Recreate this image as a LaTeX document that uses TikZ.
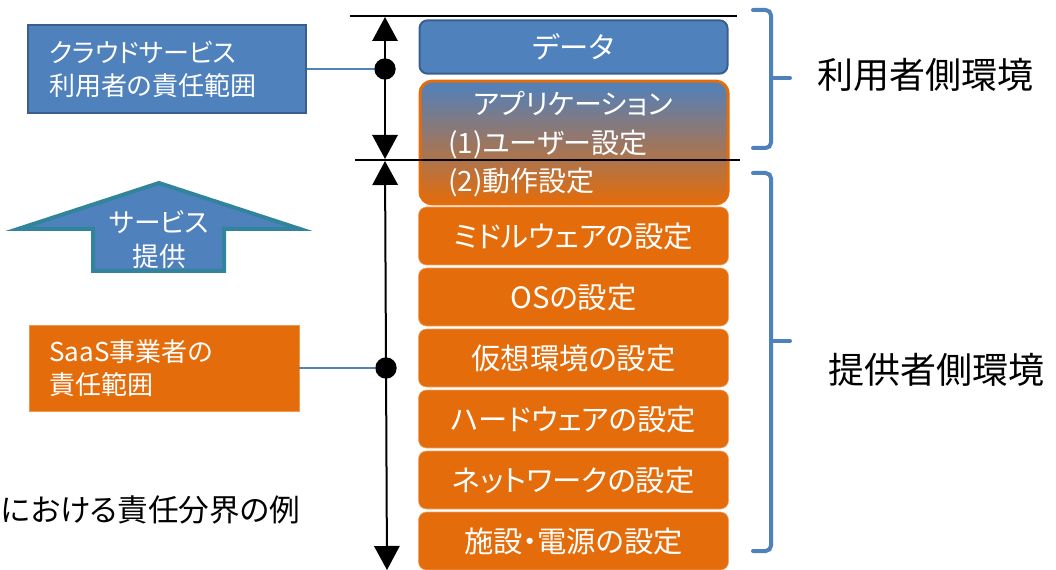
\documentclass[tikz,border=0pt]{standalone}
\usepackage{fontspec}
\setmainfont{Noto Sans CJK JP}[RawFeature=+palt]
\usetikzlibrary{arrows.meta}
\definecolor{cblue}{HTML}{4F81BD}
\definecolor{cbluedark}{HTML}{3A5F8C}
\definecolor{corange}{HTML}{E46C0A}
\definecolor{cteal}{HTML}{31849B}
\begin{document}
\begin{tikzpicture}[x=0.75pt,y=-0.75pt,
  txt/.style={text=white,font=\fontsize{21pt}{28pt}\selectfont,inner sep=0pt},
  sidetxt/.style={text=white,font=\fontsize{19.5pt}{24.75pt}\selectfont,inner sep=0pt},
  layerbox/.style={rounded corners=6pt,fill=corange,draw=corange!60!white,line width=0.4pt,
    minimum width=232.5pt,minimum height=43.5pt,inner sep=0pt,
    text=white,font=\fontsize{22pt}{28pt}\selectfont},
  sidebox/.style={minimum width=208.5pt,inner sep=0pt},
  dot/.style={circle,fill=black,inner sep=0pt,minimum size=16pt},
  conn/.style={draw=cblue,line width=1.5pt},
  dim/.style={draw=black,line width=1.5pt,{Triangle[length=18pt,width=19pt]}-{Triangle[length=18pt,width=19pt]}},
  hline/.style={draw=black,line width=1.6pt},
  brace/.style={draw=cblue,line width=3pt,rounded corners=4pt,line cap=round},
  sidelabel/.style={font=\fontsize{27pt}{30pt}\selectfont,inner sep=0pt}
]
\useasboundingbox (0,0) rectangle (1056,570);

% layer stack
\node[rounded corners=6pt,fill=cblue,draw=cbluedark,line width=1.5pt,
  minimum width=231pt,minimum height=40pt,inner sep=0pt,
  text=white,font=\fontsize{22pt}{26pt}\selectfont] (data) at (573.5,47) {データ};
\node[rounded corners=9pt,top color=cblue,bottom color=corange,draw=corange,line width=2.25pt,
  minimum width=231pt,minimum height=92pt,inner sep=0pt] (app) at (574,142.5) {};
\node[txt] (appt) at (573,104) {アプリケーション};
\node[txt,anchor=west] (app1) at (448,144) {(1)ユーザー設定};
\node[txt,anchor=west] (app2) at (448,182) {(2)動作設定};

\node[layerbox] (mw)  at (573.5,236) {ミドルウェアの設定};
\node[layerbox] (os)  at (573.5,297) {OSの設定};
\node[layerbox] (vm)  at (573.5,358) {仮想環境の設定};
\node[layerbox] (hw)  at (573.5,419) {ハードウェアの設定};
\node[layerbox] (nw)  at (573.5,480) {ネットワークの設定};
\node[layerbox] (fac) at (573.5,541) {施設・電源の設定};

% boundary lines
\coordinate (tl1) at (350,16);
\coordinate (tl2) at (737,16);
\coordinate (ml1) at (355,160);
\coordinate (ml2) at (740,160);
\draw[hline] (tl1) -- (tl2);
\draw[hline] (ml1) -- (ml2);

% dimension arrows
\coordinate (a1top) at (385,17);
\coordinate (a1bot) at (385,159);
\coordinate (a2top) at (385,161);
\coordinate (a2bot) at (387,570);
\draw[dim] (a1top) -- (a1bot);
\draw[dim] (a2top) -- (a2bot);
\node[dot] (udot) at (385,69) {};
\node[dot] (pdot) at (386,368) {};

% left boxes
\node[sidebox,fill=cblue,draw=cbluedark,line width=1.5pt,minimum height=66pt] (ubox) at (167,69) {};
\node[sidetxt,anchor=west,align=left] (ut) at (49,69) {クラウドサービス\\利用者の責任範囲};
\node[sidebox,fill=corange,draw=corange!70!white,line width=0.4pt,minimum height=64.5pt,minimum width=202.5pt] (pbox) at (164,368) {};
\node[sidetxt,anchor=west,align=left] (pt) at (49,368) {SaaS事業者の\\責任範囲};
\draw[conn] (ubox.east) -- (udot.west);
\draw[conn] (pbox.east) -- (pdot.west);

% service arrow
\draw[fill=cblue,draw=cteal,line width=3pt,line join=miter]
  (159,183) -- (300,229) -- (224,229) -- (224,271) -- (93,271) -- (93,229) -- (18,229) -- cycle;
\node[sidetxt,align=center,font=\fontsize{20pt}{25.5pt}\selectfont] (svc) at (159,240) {サービス\\提供};

% caption
\node[font=\fontsize{23pt}{26pt}\selectfont,inner sep=0pt,anchor=west] (cap) at (1,510) {における責任分界の例};

% braces
\draw[brace] (753,10) -- (771,10) -- (771,148) -- (753,148);
\draw[brace] (771,78) -- (790,78);
\draw[brace] (753,173) -- (771,173) -- (771,551) -- (753,551);
\draw[brace] (771,341) -- (790,341);

\node[sidelabel] (ulab) at (925,75) {利用者側環境};
\node[sidelabel] (plab) at (936,370) {提供者側環境};
\end{tikzpicture}
\end{document}
